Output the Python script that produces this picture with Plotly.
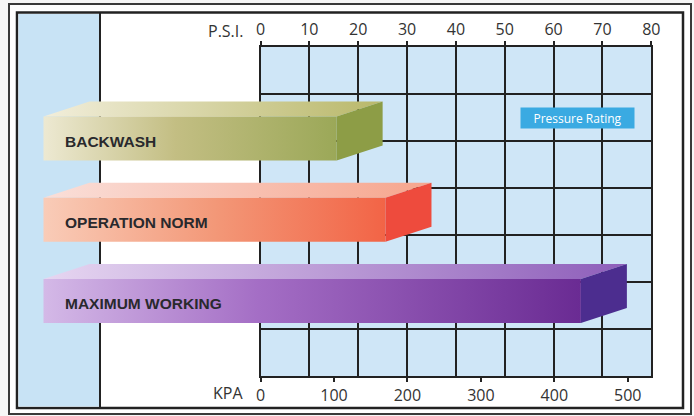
import plotly.graph_objects as go

# ---------------- data ----------------
CATEGORIES = ["BACKWASH", "OPERATION NORM", "MAXIMUM WORKING"]
PSI_VALUES = [25, 35, 75]
PSI_TICKS = [0, 10, 20, 30, 40, 50, 60, 70, 80]
KPA_TICKS = [0, 100, 200, 300, 400, 500]
KPA_PER_PSI = 6.65          # scale of the printed kPa ruler relative to psi

# ---------------- styles ----------------
W, H = 694, 416
GRID_X0, GRID_X1 = 260.5, 651.3      # px of psi 0 and psi 80
GRID_Y0, GRID_Y1 = 47, 376           # px top/bottom of grid
GRID_ROWS = 7
PX_PER_PSI = (GRID_X1 - GRID_X0) / (PSI_TICKS[-1] - PSI_TICKS[0])
ROW0_PX, ROW_STEP_PX = 138.5, 81.3   # centre of first bar, spacing
BAR_LEFT_PX = 43.5
HALF_H = 22 / ROW_STEP_PX
DEPTH_X = 46 / PX_PER_PSI
DEPTH_Y = 15 / ROW_STEP_PX
BAR_START = (BAR_LEFT_PX - GRID_X0) / PX_PER_PSI
LABEL_PAD = 19.5 / PX_PER_PSI

INK = "#222222"
GRID_BG = "#cfe6f7"
STRIP_BG = "#c8e3f5"

FRONT_SCALES = [
    [[0, "#ede9d2"], [0.45, "#c3be83"], [1, "#9ba858"]],
    [[0, "#f9ccb8"], [0.5, "#f39878"], [1, "#f26446"]],
    [[0, "#d4b9e7"], [0.4, "#a46ec5"], [1, "#6a2b93"]],
]
TOP_SCALES = [
    [[0, "#f2eedb"], [1, "#b9b86a"]],
    [[0, "#fadfd9"], [1, "#f6a58d"]],
    [[0, "#e6d6f1"], [1, "#8e5eba"]],
]
SIDE_COLORS = ["#8d9d46", "#ee4b3d", "#4c2d8f"]


def fx(px):
    return px / W


def fy(py):
    return 1 - py / H


fig = go.Figure()

# invisible anchor traces for the psi grid and the kPa ruler
fig.add_trace(go.Scatter(x=PSI_TICKS, y=[0] * len(PSI_TICKS), xaxis="x", yaxis="y",
                         mode="markers", marker=dict(opacity=0), hoverinfo="skip",
                         showlegend=False))
fig.add_trace(go.Scatter(x=KPA_TICKS, y=[0] * len(KPA_TICKS), xaxis="x2", yaxis="y",
                         mode="markers", marker=dict(opacity=0), hoverinfo="skip",
                         showlegend=False))

# 3D bars
for i, (cat, v) in enumerate(zip(CATEGORIES, PSI_VALUES)):
    c = i
    xf = v - DEPTH_X
    # top face
    fig.add_trace(go.Scatter(
        x=[BAR_START, xf, v, BAR_START + DEPTH_X, BAR_START],
        y=[c - HALF_H, c - HALF_H, c - HALF_H - DEPTH_Y, c - HALF_H - DEPTH_Y, c - HALF_H],
        xaxis="x3", yaxis="y3", mode="lines", line=dict(width=0),
        fill="toself",
        fillgradient=dict(type="horizontal", colorscale=TOP_SCALES[i], start=BAR_START, stop=v),
        hoverinfo="skip", showlegend=False))
    # front face
    fig.add_trace(go.Scatter(
        x=[BAR_START, xf, xf, BAR_START, BAR_START],
        y=[c - HALF_H, c - HALF_H, c + HALF_H, c + HALF_H, c - HALF_H],
        xaxis="x3", yaxis="y3", mode="lines", line=dict(width=0),
        fill="toself",
        fillgradient=dict(type="horizontal", colorscale=FRONT_SCALES[i], start=BAR_START, stop=xf),
        hoverinfo="skip", showlegend=False))
    # side face
    fig.add_trace(go.Scatter(
        x=[xf, v, v, xf, xf],
        y=[c - HALF_H, c - HALF_H - DEPTH_Y, c + HALF_H - DEPTH_Y, c + HALF_H, c - HALF_H],
        xaxis="x3", yaxis="y3", mode="lines", line=dict(width=0),
        fill="toself", fillcolor=SIDE_COLORS[i],
        hoverinfo="skip", showlegend=False))

annotations = []
for i, cat in enumerate(CATEGORIES):
    annotations.append(dict(
        x=BAR_START + LABEL_PAD, y=i, xref="x3", yref="y3", text=cat,
        xanchor="left", yanchor="middle", yshift=-2.5, showarrow=False,
        font=dict(family="Liberation Sans, Arial, sans-serif", size=15.5, color="#29292d",
                  weight="bold")))

annotations += [
    dict(x=fx(245), y=fy(31), xref="paper", yref="paper", text="P.S.I.",
         xanchor="right", yanchor="middle", showarrow=False,
         font=dict(family="Open Sans, sans-serif", size=16, color="#333333")),
    dict(x=fx(245), y=fy(393), xref="paper", yref="paper", text="KPA",
         xanchor="right", yanchor="middle", showarrow=False,
         font=dict(family="Open Sans, sans-serif", size=16, color="#333333")),
    dict(x=fx(577), y=fy(117.5), xref="paper", yref="paper", text="Pressure Rating",
         xanchor="center", yanchor="middle", showarrow=False,
         width=111, height=18, bgcolor="#3aaae2",
         font=dict(family="Open Sans, sans-serif", size=12, color="white")),
]

shapes = [
    # outer double frame
    dict(type="rect", xref="paper", yref="paper", x0=fx(9), x1=fx(691), y0=fy(414), y1=fy(4),
         line=dict(color="#3a3a3a", width=2), fillcolor="white", layer="below"),
    dict(type="rect", xref="paper", yref="paper", x0=fx(17), x1=fx(683), y0=fy(408), y1=fy(12.5),
         line=dict(color=INK, width=2.5), fillcolor="white", layer="below"),
    # left blue strip
    dict(type="rect", xref="paper", yref="paper", x0=fx(18.5), x1=fx(100), y0=fy(406.5), y1=fy(14),
         line=dict(width=0), fillcolor=STRIP_BG, layer="below"),
    dict(type="line", xref="paper", yref="paper", x0=fx(100), x1=fx(100), y0=fy(407), y1=fy(13),
         line=dict(color=INK, width=2), layer="below"),
    # grid background
    dict(type="rect", xref="paper", yref="paper", x0=fx(GRID_X0), x1=fx(GRID_X1),
         y0=fy(GRID_Y1), y1=fy(GRID_Y0),
         line=dict(width=0), fillcolor=GRID_BG, layer="below"),
]

tickfont = dict(family="Open Sans, sans-serif", size=16, color="#333333")

fig.update_layout(
    width=W, height=H,
    margin=dict(l=0, r=0, t=0, b=0, autoexpand=False),
    paper_bgcolor="#f7f7f7",
    plot_bgcolor="rgba(0,0,0,0)",
    showlegend=False,
    shapes=shapes,
    annotations=annotations,
    xaxis=dict(domain=[fx(GRID_X0), fx(GRID_X1)], range=[PSI_TICKS[0], PSI_TICKS[-1]],
               side="top", anchor="y", tickmode="array", tickvals=PSI_TICKS,
               showgrid=True, gridcolor=INK, gridwidth=2,
               showline=True, mirror=True, linecolor=INK, linewidth=2,
               ticks="outside", ticklen=4, tickwidth=2, tickcolor=INK,
               tickfont=tickfont, zeroline=False, fixedrange=True, automargin=False),
    xaxis2=dict(overlaying="x", side="bottom", anchor="y",
                range=[PSI_TICKS[0] * KPA_PER_PSI, PSI_TICKS[-1] * KPA_PER_PSI],
                tickmode="array", tickvals=KPA_TICKS, showgrid=False, showline=False,
                ticks="outside", ticklen=5, tickwidth=2, tickcolor=INK,
                tickfont=tickfont, zeroline=False, fixedrange=True, automargin=False),
    yaxis=dict(domain=[fy(GRID_Y1), fy(GRID_Y0)], range=[0, GRID_ROWS], anchor="x",
               tickmode="array", tickvals=list(range(GRID_ROWS + 1)),
               showgrid=True, gridcolor=INK, gridwidth=2, showticklabels=False,
               showline=True, mirror=True, linecolor=INK, linewidth=2,
               ticks="", zeroline=False, fixedrange=True, automargin=False),
    xaxis3=dict(domain=[0, 1], anchor="y3",
                range=[(0 - GRID_X0) / PX_PER_PSI, (W - GRID_X0) / PX_PER_PSI],
                visible=False, fixedrange=True),
    yaxis3=dict(domain=[0, 1], anchor="x3",
                range=[(H - ROW0_PX) / ROW_STEP_PX, (0 - ROW0_PX) / ROW_STEP_PX],
                visible=False, fixedrange=True),
)

fig.write_html("out.html", config={"displayModeBar": False},
               post_script="document.body.style.margin='0';")
